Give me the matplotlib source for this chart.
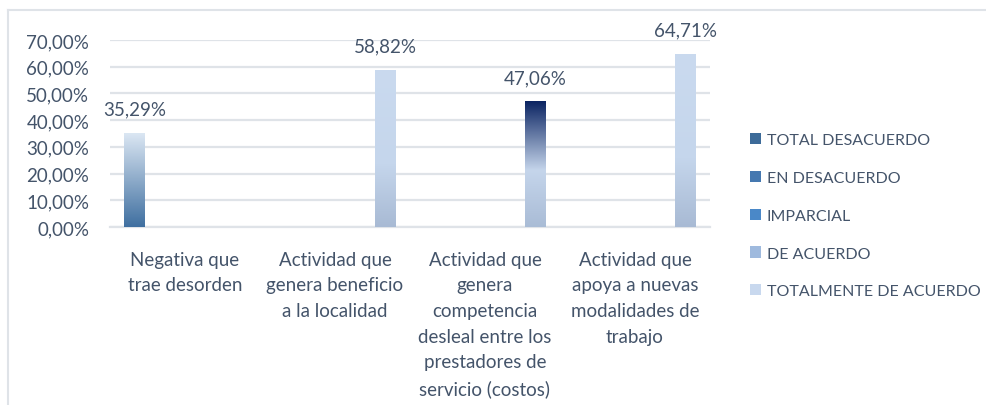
import numpy as np
import matplotlib
matplotlib.use("Agg")
import matplotlib.pyplot as plt
from matplotlib.patches import Patch
from matplotlib.colors import LinearSegmentedColormap
from matplotlib.ticker import FuncFormatter, MultipleLocator
from matplotlib.lines import Line2D

categories = [
    "Negativa que\ntrae desorden",
    "Actividad que\ngenera beneficio\na la localidad",
    "Actividad que\ngenera\ncompetencia\ndesleal entre los\nprestadores de\nservicio (costos)",
    "Actividad que\napoya a nuevas\nmodalidades de\ntrabajo",
]
series_names = ["TOTAL DESACUERDO", "EN DESACUERDO", "IMPARCIAL",
                "DE ACUERDO", "TOTALMENTE DE ACUERDO"]
total_desacuerdo = [0.3529, 0.0, 0.0, 0.0]
en_desacuerdo = [0.0, 0.0, 0.0, 0.0]
imparcial = [0.0, 0.0, 0.0, 0.0]
de_acuerdo = [0.0, 0.0, 0.0, 0.0]
totalmente_de_acuerdo = [0.0, 0.5882, 0.4706, 0.6471]
series_values = [total_desacuerdo, en_desacuerdo, imparcial, de_acuerdo, totalmente_de_acuerdo]
legend_colors = ["#3d6b99", "#4578b0", "#4a88c8", "#9fbade", "#c8d8ee"]

TEXT = "#44546a"
GRID = "#dfe3e8"
plt.rcParams['font.family'] = ['Lato', 'DejaVu Sans']

fig = plt.figure(figsize=(9.87, 4.06), dpi=100)
ax = fig.add_axes([110/987, 1-228/406, 600/987, (228-41)/406])

n = len(series_names)
x = np.arange(len(categories))
step = 0.1667
width = 0.14

# gradient stops (bottom -> top) for bars
default_grad = {
    0: [(0.0, "#3f6fa0"), (1.0, "#dde8f4")],
    4: [(0.0, "#a8bad4"), (0.4, "#c5d6ec"), (1.0, "#cadaef")],
}
special_grad = {(4, 2): [(0.0, "#a9bcd6"), (0.45, "#c5d5eb"), (1.0, "#0b2462")]}

for i, vals in enumerate(series_values):
    bars = ax.bar(x + (i - (n - 1) / 2) * step, vals, width,
                  color=legend_colors[i], zorder=2, linewidth=0)
    for j, (b, v) in enumerate(zip(bars, vals)):
        if v <= 0:
            continue
        stops = special_grad.get((i, j), default_grad.get(i, [(0, legend_colors[i]), (1, legend_colors[i])]))
        cmap = LinearSegmentedColormap.from_list("g", stops)
        x0, y0 = b.get_x(), b.get_y()
        w, h = b.get_width(), b.get_height()
        grad = np.linspace(0, 1, 256).reshape(-1, 1)
        im = ax.imshow(grad, cmap=cmap, origin="lower", aspect="auto",
                       extent=(x0, x0 + w, y0, y0 + h), zorder=3)
        im.set_clip_path(b)
        b.set_facecolor("none")
        ax.annotate(f"{v*100:.2f}%".replace(".", ","),
                    (x0 + w / 2, y0 + h), xytext=(0, 11), textcoords="offset points",
                    ha="center", va="bottom", fontsize=13.5, color=TEXT, zorder=4)

ax.set_xlim(-0.5, len(categories) - 0.5)
ax.set_ylim(0, 0.7)
ax.yaxis.set_major_locator(MultipleLocator(0.1))
ax.yaxis.set_major_formatter(FuncFormatter(lambda v, p: f"{v*100:.2f}%".replace(".", ",")))
ax.set_xticks(x)
ax.set_xticklabels(categories, linespacing=1.62)
ax.tick_params(axis="both", length=0, colors=TEXT, labelsize=13.5)
ax.tick_params(axis="y", pad=15)
ax.tick_params(axis="x", pad=17)
ax.grid(axis="y", color=GRID, linewidth=1.6, zorder=0)
ax.set_axisbelow(True)
for s in ["top", "right", "left"]:
    ax.spines[s].set_visible(False)
ax.spines["bottom"].set_color(GRID)
ax.spines["bottom"].set_linewidth(1.6)

handles = [Patch(facecolor=c, edgecolor="none") for c in legend_colors]
fig.legend(handles, series_names, loc="upper left", bbox_to_anchor=(742/987, 1-126/406),
           frameon=False, fontsize=11.5, labelcolor=TEXT, handlelength=0.7,
           handleheight=0.7, handletextpad=0.35, labelspacing=1.48, borderpad=0)

# chart border
fig.add_artist(Line2D([8.5/987, 1.0], [1-11/406, 1-11/406], color=GRID, linewidth=1.5))
fig.add_artist(Line2D([8.5/987, 8.5/987], [0, 1-11/406], color=GRID, linewidth=1.5))

fig.savefig("out.png", dpi=100, facecolor="white")
